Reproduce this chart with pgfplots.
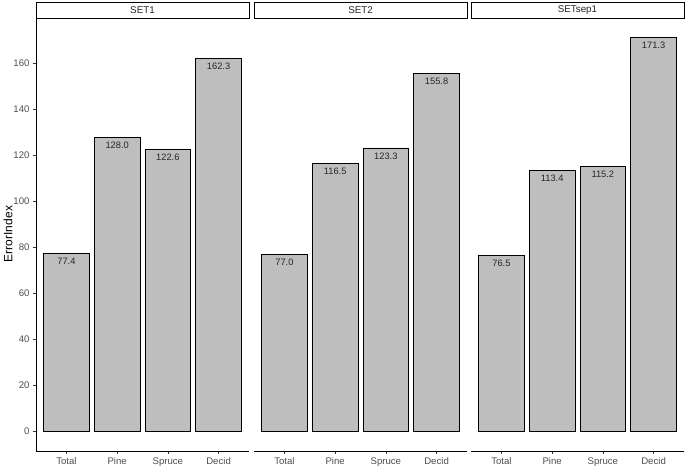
\documentclass[border=0pt]{standalone}
\usepackage{pgfplots}
\pgfplotsset{compat=1.18}
\usepackage{fontspec}
\setmainfont{Liberation Sans}
\definecolor{barfill}{RGB}{190,190,190}
\definecolor{ticktext}{RGB}{77,77,77}
\definecolor{tickline}{RGB}{51,51,51}

\pgfplotsset{
  facet/.style={
    scale only axis,
    width=213pt, height=433pt,
    xmin=0.4, xmax=4.6,
    ymin=-8.565, ymax=179.865,
    anchor=south west,
    axis x line*=bottom,
    xtick={1,2,3,4},
    xticklabels={Total,Pine,Spruce,Decid},
    ytick={0,20,...,160},
    tick align=outside,
    major tick length=3pt,
    tick style={tickline, line width=0.5pt},
    axis line style={black, line width=0.6pt, -},
    tick label style={font=\fontsize{9.6}{11}\selectfont, text=ticktext},
    /pgf/number format/assume math mode=true,
    ybar, bar width=0.9, bar shift=0pt,
    nodes near coords,
    nodes near coords style={anchor=north, yshift=-1pt,
      font=\fontsize{9.3}{11}\selectfont, text=black!85,
      /pgf/number format/.cd, fixed, fixed zerofill, precision=1},
  },
  bars/.style={fill=barfill, draw=black, line width=0.7pt},
}

\newcommand{\strip}[3]{%
  \draw[black, line width=0.7pt, fill=white] (#1pt,449pt) rectangle (#2pt,465pt);
  \node[font=\fontsize{9.8}{11}\selectfont, text=black!85] at ({(#1+#2)/2*1pt},457pt) {#3};
}

\begin{document}
\begin{tikzpicture}
\useasboundingbox (0,0) rectangle (685pt,467pt);

% SET1
\begin{axis}[facet, at={(36pt,16pt)}, axis y line*=left]
\addplot[bars] coordinates {(1,77.4) (2,128.0) (3,122.6) (4,162.3)};
\end{axis}

% SET2
\begin{axis}[facet, at={(254pt,16pt)}, axis y line=none]
\addplot[bars] coordinates {(1,77.0) (2,116.5) (3,123.3) (4,155.8)};
\end{axis}

% SETsep1
\begin{axis}[facet, at={(471pt,16pt)}, axis y line=none]
\addplot[bars] coordinates {(1,76.5) (2,113.4) (3,115.2) (4,171.3)};
\end{axis}

\strip{36}{249}{SET1}
\strip{254}{467}{SET2}
\strip{471}{684}{SETsep1}

\node[rotate=90, font=\fontsize{12}{14}\selectfont] at (8pt,233pt) {ErrorIndex};
\end{tikzpicture}
\end{document}
